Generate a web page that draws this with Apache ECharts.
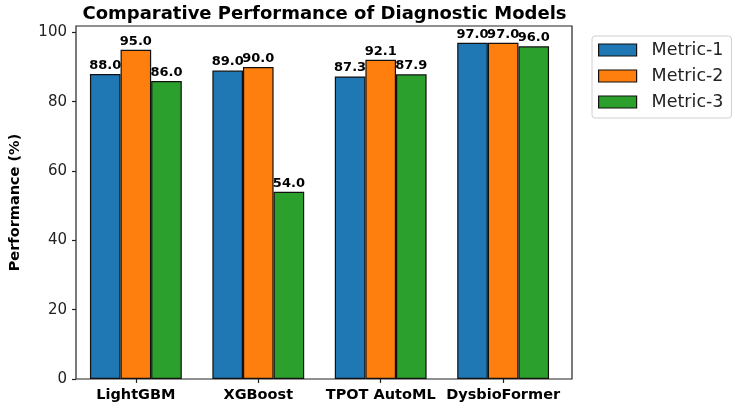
<!DOCTYPE html>
<html>
<head>
<meta charset="utf-8">
<script src="https://cdn.jsdelivr.net/npm/echarts@6/dist/echarts.min.js"></script>
<style>
  html, body { margin: 0; padding: 0; background: #fff; }
  #chart { width: 735px; height: 408px; }
</style>
</head>
<body>
<div id="chart"></div>
<script>
const models = ['LightGBM', 'XGBoost', 'TPOT AutoML', 'DysbioFormer']
const metricNames = ['Metric-1', 'Metric-2', 'Metric-3']
const metric1 = [88.0, 89.0, 87.3, 97.0]
const metric2 = [95.0, 90.0, 92.1, 97.0]
const metric3 = [86.0, 54.0, 87.9, 96.0]
const yTicks = [0, 20, 40, 60, 80, 100]

const font = 'DejaVu Sans'
const colors = ['#1f77b4', '#ff7f0e', '#2ca02c']
const yMax = 101.85

// frame box edges (px)
const frameLeft = 67, frameRight = 572, frameTop = 26, frameBottom = 379
// matplotlib pads the bar groups by 5% of the data range, so the band is a bit narrower
const band = (frameRight - frameLeft) / 4.125
const inset = band * 0.0625

const chart = echarts.init(document.getElementById('chart'))

function barSeries(name, data, i) {
	return {
		name: name,
		type: 'bar',
		xAxisIndex: 1,
		yAxisIndex: 1,
		data: data,
		barWidth: '25%',
		barGap: '0%',
		itemStyle: {
			color: colors[i],
			borderColor: '#111',
			borderWidth: 1.2
		},
		label: {
			show: true,
			position: 'top',
			distance: 2,
			fontFamily: font,
			fontWeight: 'bold',
			fontSize: 13,
			color: '#000',
			formatter: p => p.value.toFixed(1)
		}
	}
}

const option = {
	animation: false,
	textStyle: { fontFamily: font },
	title: {
		text: 'Comparative Performance of Diagnostic Models',
		left: (frameLeft + frameRight) / 2,
		textAlign: 'center',
		top: 0,
		textStyle: {
			fontFamily: font,
			fontWeight: 'bold',
			fontSize: 18,
			color: '#000'
		}
	},
	legend: {
		orient: 'vertical',
		left: 592,
		top: 36,
		data: metricNames,
		itemWidth: 38,
		itemHeight: 12,
		itemGap: 8,
		padding: [5, 8, 7, 6],
		borderColor: '#d0d0d0',
		borderWidth: 1,
		borderRadius: 3,
		icon: 'rect',
		itemStyle: { borderColor: '#111', borderWidth: 1.2 },
		textStyle: {
			fontFamily: font,
			fontSize: 17.5,
			lineHeight: 18,
			color: '#222',
			padding: [0, 0, 0, 10]
		}
	},
	grid: [
		{
			left: frameLeft,
			right: 735 - frameRight,
			top: frameTop,
			bottom: 408 - frameBottom,
			show: true,
			borderColor: '#222',
			borderWidth: 1.2,
			backgroundColor: 'transparent'
		},
		{
			left: frameLeft + inset,
			right: 735 - frameRight + inset,
			top: frameTop,
			bottom: 408 - frameBottom
		}
	],
	xAxis: [
		{
			gridIndex: 0,
			type: 'value',
			min: 0,
			max: 1,
			show: false
		},
		{
			gridIndex: 1,
			type: 'category',
			data: models,
			axisLine: { show: false },
			axisTick: {
				show: true,
				alignWithLabel: true,
				length: 4,
				lineStyle: { color: '#222', width: 1.2 }
			},
			axisLabel: {
				interval: 0,
				margin: 9,
				fontFamily: font,
				fontWeight: 'bold',
				fontSize: 14.5,
				color: '#000'
			},
			splitLine: { show: false }
		}
	],
	yAxis: [
		{
			gridIndex: 0,
			type: 'value',
			min: 0,
			max: yMax,
			name: 'Performance (%)',
			nameLocation: 'middle',
			nameGap: 53,
			nameTextStyle: {
				fontFamily: font,
				fontWeight: 'bold',
				fontSize: 14.5,
				color: '#000'
			},
			axisLine: { show: false },
			axisTick: {
				show: true,
				length: 4,
				customValues: yTicks,
				lineStyle: { color: '#222', width: 1.2 }
			},
			axisLabel: {
				margin: 9,
				customValues: yTicks,
				fontFamily: font,
				fontSize: 15,
				color: '#222'
			},
			splitLine: { show: false }
		},
		{
			gridIndex: 1,
			type: 'value',
			min: 0,
			max: yMax,
			show: false,
			splitLine: { show: false }
		}
	],
	series: [
		barSeries(metricNames[0], metric1, 0),
		barSeries(metricNames[1], metric2, 1),
		barSeries(metricNames[2], metric3, 2)
	]
}

chart.setOption(option)
</script>
</body>
</html>
